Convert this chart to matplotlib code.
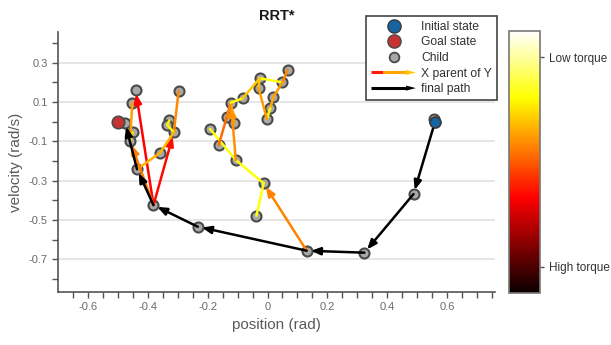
import matplotlib
matplotlib.use("Agg")
import matplotlib.pyplot as plt
import numpy as np
from matplotlib.cm import ScalarMappable
from matplotlib.colors import Normalize
from matplotlib.legend_handler import HandlerBase
from matplotlib.lines import Line2D
from matplotlib.patches import Polygon

plt.rcParams["font.family"] = ["Liberation Sans", "DejaVu Sans"]

# states
initial_state = (0.56, 0.0)
goal_state = (-0.498, -0.003)

# final path, from initial state to goal
path_x = [0.56, 0.488, 0.324, 0.131, -0.233, -0.381, -0.436, -0.476]
path_y = [0.0, -0.368, -0.666, -0.656, -0.534, -0.424, -0.242, -0.005]

# tree nodes (children) off the final path
node_x = [0.558, -0.441, -0.452, -0.45, -0.459, -0.297, -0.328, -0.335, -0.313,
          -0.359, -0.192, -0.163, -0.122, -0.136, -0.111, -0.083, -0.026, -0.03,
          0.05, 0.067, 0.02, 0.009, -0.002, -0.106, -0.013, -0.037]
node_y = [0.012, 0.163, 0.097, -0.054, -0.098, 0.155, 0.007, -0.017, -0.054,
          -0.158, -0.037, -0.118, 0.097, 0.025, -0.008, 0.119, 0.221, 0.173,
          0.2, 0.263, 0.127, 0.068, 0.013, -0.195, -0.313, -0.478]

# tree edges: parent (x0, y0) -> child (x1, y1), torque level 0..1 (1 = low)
edge_x0 = [-0.381, -0.381, -0.313, -0.313, -0.335, -0.313, -0.359, -0.381, -0.459, -0.459,
           0.131, -0.013, -0.013, -0.106, -0.106, -0.122, -0.122, -0.122, -0.122,
           -0.083, -0.026, 0.05, 0.05, 0.02, 0.009, -0.026, -0.03]
edge_y0 = [-0.424, -0.424, -0.054, -0.054, -0.017, -0.054, -0.158, -0.424, -0.098, -0.098,
           -0.656, -0.313, -0.313, -0.195, -0.195, 0.097, 0.097, 0.097, 0.097,
           0.119, 0.221, 0.2, 0.2, 0.127, 0.068, 0.221, 0.173]
edge_x1 = [-0.441, -0.313, -0.297, -0.335, -0.328, -0.359, -0.436, -0.459, -0.452, -0.45,
           -0.013, -0.037, -0.106, -0.192, -0.122, -0.163, -0.136, -0.111, -0.083,
           -0.026, 0.05, 0.067, 0.02, 0.009, -0.002, -0.03, -0.002]
edge_y1 = [0.163, -0.054, 0.155, -0.017, 0.007, -0.158, -0.242, -0.098, 0.097, -0.054,
           -0.313, -0.478, -0.195, -0.037, 0.097, -0.118, 0.025, -0.008, 0.119,
           0.221, 0.2, 0.263, 0.127, 0.068, 0.013, 0.173, 0.013]
edge_torque = [0.37, 0.38, 0.57, 0.74, 0.72, 0.63, 0.63, 0.55, 0.6, 0.7,
               0.56, 0.75, 0.75, 0.75, 0.58, 0.52, 0.56, 0.6, 0.74,
               0.66, 0.75, 0.57, 0.6, 0.62, 0.74, 0.66, 0.6]

xticks = [-0.6, -0.4, -0.2, 0, 0.2, 0.4, 0.6]
xtick_labels = ["-0.6", "-0.4", "-0.2", "0", "0.2", "0.4", "0.6"]
yticks = [0.3, 0.1, -0.1, -0.3, -0.5, -0.7]
ytick_labels = ["0.3", "0.1", "-0.1", "-0.3", "-0.5", "-0.7"]
cbar_ticks = [0.1, 0.9]
cbar_labels = ["High torque", "Low torque"]


class ArrowHandler(HandlerBase):
    def __init__(self, colors, head_color):
        super().__init__()
        self.colors = colors
        self.head_color = head_color

    def create_artists(self, legend, orig_handle, xdescent, ydescent,
                       width, height, fontsize, trans):
        y = (height - ydescent) / 2
        x0 = -xdescent
        head_len = width * 0.22
        xe = x0 + width - head_len
        xs = np.linspace(x0, xe, len(self.colors) + 1)
        artists = []
        for i, c in enumerate(self.colors):
            ln = Line2D([xs[i], xs[i + 1] + 0.5], [y, y], color=c, lw=2.2,
                        solid_capstyle="butt")
            ln.set_transform(trans)
            artists.append(ln)
        hw = height * 0.3
        head = Polygon([[xe, y - hw], [x0 + width, y], [xe, y + hw]],
                       closed=True, facecolor=self.head_color, lw=0)
        head.set_transform(trans)
        artists.append(head)
        return artists


fig = plt.figure(figsize=(6.11, 3.45), dpi=100)
ax = fig.add_axes([0.095, 0.1536, 0.715, 0.7536])
ax.set_xlim(-0.7, 0.76)
ax.set_ylim(-0.866, 0.456)

ax.set_xticks(xticks)
ax.set_xticklabels(xtick_labels)
ax.set_xticks(np.arange(-0.65, 0.76, 0.05), minor=True)
ax.set_yticks(yticks)
ax.set_yticklabels(ytick_labels)
ax.set_yticks(np.arange(-0.8, 0.41, 0.1), minor=True)
ax.tick_params(which="both", direction="out", length=4, width=1, color="#555555",
               labelsize=8, labelcolor="#6a6a6a")
ax.grid(axis="y", color="#e4e4e4", lw=1.3)
ax.set_axisbelow(True)
for s in ["top", "right"]:
    ax.spines[s].set_visible(False)
for s in ["left", "bottom"]:
    ax.spines[s].set_color("#555555")
    ax.spines[s].set_linewidth(1.2)

cmap = plt.cm.hot
head = "-|>,head_length=0.55,head_width=0.22"

# nodes
all_x = node_x + path_x
all_y = node_y + path_y
ax.scatter(all_x, all_y, s=52, facecolor="#a8a8a8", edgecolor="#4a4a4a",
           linewidth=1.5, zorder=2)

# tree edges
for x0, y0, x1, y1, t in zip(edge_x0, edge_y0, edge_x1, edge_y1, edge_torque):
    c = cmap(t)
    plen = np.hypot((x1 - x0) * 300, (y1 - y0) * 196.7)
    if plen > 45:
        ax.annotate("", xy=(x1, y1), xytext=(x0, y0),
                    arrowprops=dict(arrowstyle=head, color=c, lw=1.8,
                                    shrinkA=0, shrinkB=3),
                    zorder=3)
    else:
        ax.plot([x0, x1], [y0, y1], color=c, lw=1.8, solid_capstyle="round", zorder=3)

# final path
for i in range(len(path_x) - 1):
    ax.annotate("", xy=(path_x[i + 1], path_y[i + 1]), xytext=(path_x[i], path_y[i]),
                arrowprops=dict(arrowstyle=head, color="black", lw=1.8,
                                shrinkA=0, shrinkB=3),
                zorder=4)

ax.scatter([initial_state[0]], [initial_state[1]], s=60, facecolor="#1565a5",
           edgecolor="#3a3a3a", linewidth=1.2, zorder=5)
ax.scatter([goal_state[0]], [goal_state[1]], s=80, facecolor="#c83232",
           edgecolor="#4a4a4a", linewidth=1.2, zorder=5)

ax.set_title("RRT*", fontsize=10.5, fontweight="bold", color="#1a1a1a", pad=9)
ax.set_xlabel("position (rad)", fontsize=11, color="#5a5a5a", labelpad=4)
ax.set_ylabel("velocity (rad/s)", fontsize=11, color="#5a5a5a", labelpad=4)

# legend
h_init = Line2D([], [], ls="none", marker="o", markersize=9.5, markerfacecolor="#1565a5",
                markeredgecolor="#3a3a3a")
h_goal = Line2D([], [], ls="none", marker="o", markersize=9.5, markerfacecolor="#c83232",
                markeredgecolor="#4a4a4a")
h_child = Line2D([], [], ls="none", marker="o", markersize=7, markerfacecolor="#a8a8a8",
                 markeredgecolor="#4a4a4a", markeredgewidth=1.3)
h_tree = Line2D([], [])
h_path = Line2D([], [])
leg = ax.legend([h_init, h_goal, h_child, h_tree, h_path],
                ["Initial state", "Goal state", "Child", "X parent of Y", "final path"],
                handler_map={h_tree: ArrowHandler(["#ff1a00", "#ffa500", "#ffa500"], "#ffc800"),
                             h_path: ArrowHandler(["black"], "black")},
                loc="upper right", bbox_to_anchor=(497 / 611, 1 - 16 / 345),
                bbox_transform=fig.transFigure, fontsize=8.7, handlelength=3.7,
                handletextpad=0.45, labelspacing=0.3, borderpad=0.4,
                fancybox=False, framealpha=1, edgecolor="#444444", borderaxespad=0)
leg.get_frame().set_linewidth(1.2)
for txt in leg.get_texts():
    txt.set_color("#333333")

# colorbar
cax = fig.add_axes([509 / 611, 52 / 345, 31 / 611, 262 / 345])
sm = ScalarMappable(norm=Normalize(0, 1), cmap=cmap)
cb = fig.colorbar(sm, cax=cax, ticks=cbar_ticks)
cb.set_ticklabels(cbar_labels)
cb.outline.set_edgecolor("#777777")
cb.outline.set_linewidth(1.2)
cax.tick_params(length=3, width=1, color="#555555", labelsize=8.5, labelcolor="#333333")

fig.savefig("out.png", dpi=100)
